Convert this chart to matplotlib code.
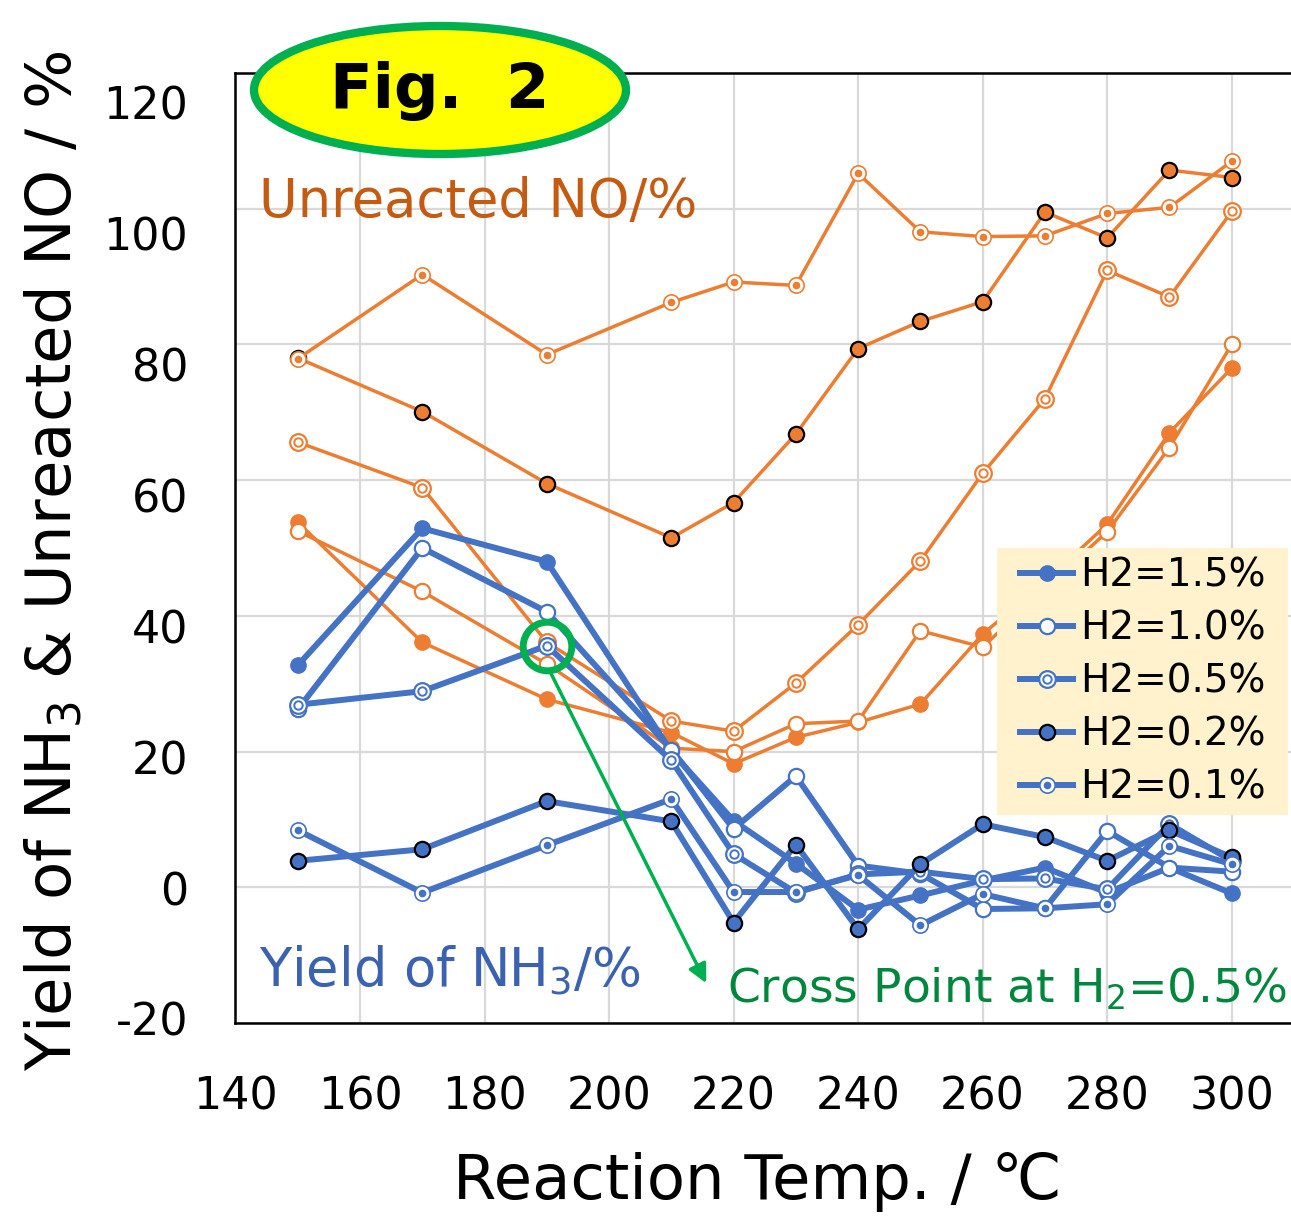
import matplotlib
matplotlib.use('Agg')
from matplotlib import pyplot as plt
from matplotlib.patches import Ellipse, Rectangle
from matplotlib.legend_handler import HandlerTuple

# 反応温度 / ℃
temps = [150, 170, 190, 210, 220, 230, 240, 250, 260, 270, 280, 290, 300]
h2_labels = ['H2=1.5%', 'H2=1.0%', 'H2=0.5%', 'H2=0.2%', 'H2=0.1%']

# 未反応NO / %
no_15 = [53.8, 36.1, 27.7, 22.8, 18.2, 22.1, 24.3, 27.0, 37.3, 45.0, 53.5, 67.0, 76.5]
no_10 = [52.5, 43.6, 32.9, 20.5, 20.0, 24.1, 24.5, 37.8, 35.4, 44.0, 52.4, 64.8, 80.0]
no_05 = [65.6, 58.9, 36.1, 24.5, 23.0, 30.1, 38.7, 48.1, 61.0, 72.0, 90.9, 87.0, 99.6]
no_02 = [78.0, 70.1, 59.5, 51.5, 56.7, 66.8, 79.4, 83.4, 86.3, 99.5, 95.7, 105.7, 104.6]
no_01 = [77.9, 90.3, 78.5, 86.2, 89.2, 88.7, 105.2, 96.6, 95.9, 96.0, 99.3, 100.2, 107.0]

# NH3収率 / %
nh3_15 = [32.7, 52.9, 48.0, 20.0, 9.8, 3.5, -3.3, -1.2, 1.0, 2.9, -0.8, 2.9, -0.9]
nh3_10 = [26.2, 50.0, 40.6, 20.3, 8.6, 16.4, 3.2, 2.0, -3.2, -3.1, 8.3, 2.9, 2.3]
nh3_05 = [26.9, 28.9, 35.6, 18.7, 4.9, -0.8, 1.9, 2.3, 1.2, 1.3, -0.3, 9.3, 3.9]
nh3_02 = [3.9, 5.6, 12.7, 9.7, -5.2, 6.3, -6.2, 3.4, 9.3, 7.4, 3.9, 8.4, 4.4]
nh3_01 = [8.4, -0.8, 6.2, 13.0, -0.7, -0.7, 1.8, -5.6, -1.0, -3.1, -2.5, 6.1, 3.4]

ORANGE = '#ED7D31'
BLUE = '#4472C4'
GREEN = '#00B050'

plt.rcParams['font.family'] = ['DejaVu Sans', 'Noto Sans CJK JP']
plt.rcParams['axes.unicode_minus'] = False


def draw(ax, y, color, style, lw, ms, z):
    #H2濃度ごとにマーカーの形を変える
    parts = []
    if style == '1.5':
        l, = ax.plot(temps, y, color=color, lw=lw, marker='o', ms=ms, mfc=color, mec=color, zorder=z)
        parts.append(l)
    elif style == '1.0':
        l, = ax.plot(temps, y, color=color, lw=lw, marker='o', ms=ms, mfc='white', mec=color, mew=1.6, zorder=z)
        parts.append(l)
    elif style == '0.5':
        l, = ax.plot(temps, y, color=color, lw=lw, marker='o', ms=ms + 1, mfc='white', mec=color, mew=1.6, zorder=z)
        m, = ax.plot(temps, y, ls='none', marker='o', ms=ms * 0.55, mfc='white', mec=color, mew=1.4, zorder=z)
        parts += [l, m]
    elif style == '0.2':
        l, = ax.plot(temps, y, color=color, lw=lw, marker='o', ms=ms, mfc=color, mec='black', mew=1.6, zorder=z)
        parts.append(l)
    else:
        l, = ax.plot(temps, y, color=color, lw=lw, marker='o', ms=ms, mfc='white', mec=color, mew=1.2, zorder=z)
        m, = ax.plot(temps, y, ls='none', marker='o', ms=ms * 0.5, mfc=color, mec=color, mew=0, zorder=z)
        parts += [l, m]
    return tuple(parts)


fig = plt.figure(figsize=(12.91, 12.19), dpi=100)
ax = fig.add_axes([0.1824, 0.1608, 0.8199, 0.7793])

styles = ['1.5', '1.0', '0.5', '0.2', '0.1']
for y, s in zip([no_15, no_10, no_05, no_02, no_01], styles):
    draw(ax, y, ORANGE, s, 2.5, 11, 3)
handles = []
for y, s in zip([nh3_15, nh3_10, nh3_05, nh3_02, nh3_01], styles):
    handles.append(draw(ax, y, BLUE, s, 4.3, 11, 4))

ax.set_xlim(140, 310)
ax.set_ylim(-20, 120)
ax.set_xticks(range(140, 301, 20))
ax.set_yticks(range(-20, 121, 20))
ax.grid(True, color='#D9D9D9', lw=1.6)
ax.set_axisbelow(True)
ax.tick_params(length=0, labelsize=32)
ax.tick_params(axis='y', labelleft=False)
ax.tick_params(axis='x', pad=38)
for side in ['left', 'top', 'bottom']:
    ax.spines[side].set_linewidth(1.8)
    ax.spines[side].set_color('black')
ax.spines['right'].set_visible(False)

# 縦軸の目盛ラベルは少し詰めて並べる
ax_lab = fig.add_axes([0.1824, 1 - 1019 / 1219, 0.0005, 916 / 1219])
ax_lab.set_ylim(-20, 120)
ax_lab.set_yticks(range(-20, 121, 20))
ax_lab.set_xticks([])
ax_lab.tick_params(length=0, labelsize=32, pad=34)
ax_lab.patch.set_visible(False)
for sp in ax_lab.spines.values():
    sp.set_visible(False)
ax_lab.set_ylabel('Yield of NH$_3$ & Unreacted NO / %', fontsize=45, labelpad=14)

ax.set_xlabel('Reaction Temp. / ℃', fontsize=45, labelpad=24, x=0.4927)

ax.text(143.7, 101, 'Unreacted NO/%', color='#C55A11', fontsize=38, va='center', ha='left', zorder=6)
ax.text(143.7, -12.4, 'Yield of NH$_3$/%', color='#3B62B0', fontsize=38, va='center', ha='left', zorder=6)
ax.text(219.0, -15.0, 'Cross Point at H$_2$=0.5%', color='#00873D', fontsize=34, va='center', ha='left', zorder=6)

# 交点の丸と矢印
ax.plot([190], [nh3_05[2]], ls='none', marker='o', ms=35, mfc='none', mec=GREEN, mew=5, zorder=7)
ax.annotate('', xy=(215.8, -14.5), xytext=(190.3, nh3_05[2] - 3.4),
            arrowprops=dict(arrowstyle='-|>', color=GREEN, lw=2.5, mutation_scale=28), zorder=7)

# 凡例（背景は別に塗る）
box = Rectangle((0.7194, 0.2189), 0.2749, 0.2811, transform=ax.transAxes,
                facecolor='#FFF2CC', edgecolor='none', zorder=8)
ax.add_patch(box)
leg = ax.legend(handles, h2_labels, loc='center', bbox_to_anchor=(0.8575, 0.3595),
                handler_map={tuple: HandlerTuple(ndivide=1)}, fontsize=28, frameon=False,
                handlelength=1.36, handletextpad=0.18, labelspacing=0.384, borderpad=0, borderaxespad=0)
leg.set_zorder(9)

# Fig. 2 の楕円ラベル
ell = Ellipse((440 / 1291, 1 - 90 / 1219), 372 / 1291, 128 / 1219, transform=fig.transFigure,
              facecolor='#FFFF00', edgecolor=GREEN, lw=6, zorder=5)
fig.add_artist(ell)
fig.text(440 / 1291, 1 - 91 / 1219, 'Fig.  2', fontsize=45, fontweight='bold', ha='center', va='center', zorder=6)

plt.savefig('out.png', dpi=100)
plt.close('all')
